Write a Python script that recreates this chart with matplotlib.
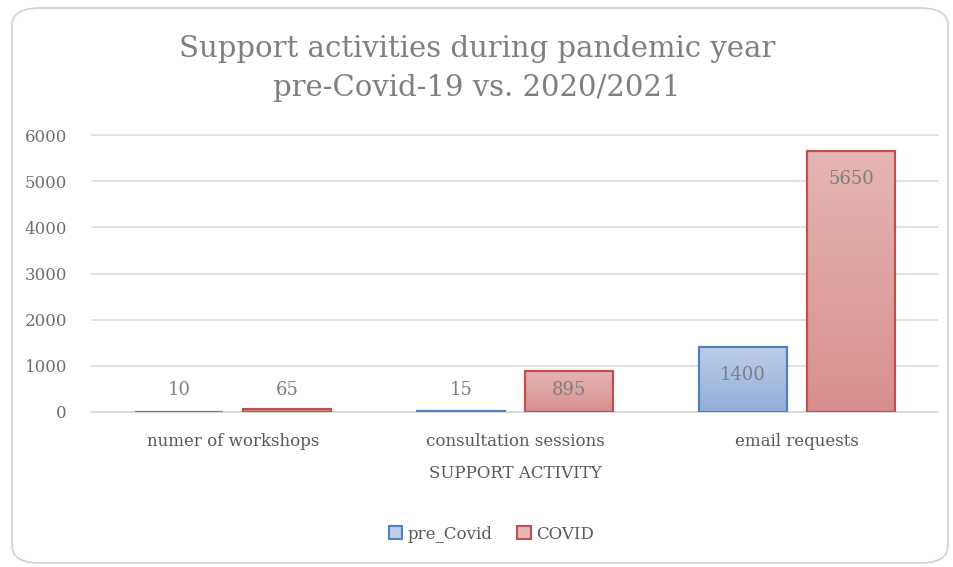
import numpy as np
import matplotlib
matplotlib.use('Agg')
import matplotlib.pyplot as plt
from matplotlib.colors import LinearSegmentedColormap
from matplotlib.patches import FancyBboxPatch, Patch

categories = ['numer of workshops', 'consultation sessions', 'email requests']
series_names = ['pre_Covid', 'COVID']
pre_covid = [10, 15, 1400]
covid = [65, 895, 5650]
yticks = [0, 1000, 2000, 3000, 4000, 5000, 6000]

title = 'Support activities during pandemic year\npre-Covid-19 vs. 2020/2021'
xlabel = 'SUPPORT ACTIVITY'

plt.rcParams['font.family'] = ['DejaVu Serif']

fill_colors = [('#bccde9', '#92aedb'), ('#e6b5b5', '#d78f8e')]
edge_colors = ['#4f81bd', '#c0504d']
text_gray = '#7f7f7f'
tick_gray = '#595959'

fig = plt.figure(figsize=(9.54, 5.67), dpi=100)

# rounded frame around whole chart
frame = FancyBboxPatch((12 / 954, 4 / 567), 936 / 954, 555 / 567,
                       boxstyle='round,pad=0,rounding_size=0.03',
                       transform=fig.transFigure, facecolor='none',
                       edgecolor='#d0d0d0', linewidth=1.2, zorder=-1)
fig.patches.append(frame)

ax = fig.add_axes([92 / 954, 155 / 567, 846 / 954, 277 / 567])
ax.set_facecolor('none')

x = np.arange(len(categories))
width = 0.312
offset = 0.192

for k, vals in enumerate([pre_covid, covid]):
    cmap = LinearSegmentedColormap.from_list('g%d' % k, [fill_colors[k][1], fill_colors[k][0]])
    bars = ax.bar(x + (2 * k - 1) * offset, vals, width, facecolor='none',
                  edgecolor=edge_colors[k], linewidth=1.6, label=series_names[k], zorder=3)
    for b, v in zip(bars, vals):
        x0, x1 = b.get_x(), b.get_x() + b.get_width()
        grad = np.linspace(0, 1, 256).reshape(-1, 1)
        im = ax.imshow(grad, cmap=cmap, origin='lower', aspect='auto',
                       extent=[x0, x1, 0, v], zorder=2)
        im.set_clip_path(b)
        # label inside top end, or just above for short bars
        ax.text(b.get_x() + b.get_width() / 2, max(v - 600, 475), str(v),
                ha='center', va='center', fontsize=13, color=text_gray, zorder=4)

ax.set_xlim(-0.5, 2.5)
ax.set_ylim(0, 6000)
ax.set_yticks(yticks)
ax.set_xticks(x)
ax.set_xticklabels(categories)
ax.tick_params(axis='both', length=0, labelsize=12, labelcolor=tick_gray)
ax.tick_params(axis='y', labelcolor='#6f6f6f')
ax.tick_params(axis='x', pad=15)
ax.tick_params(axis='y', pad=18)
ax.grid(axis='y', color='#d9d9d9', linewidth=1.1, zorder=0)
for gl in ax.get_ygridlines():
    gl.set_clip_on(False)
ax.set_axisbelow(True)
for s in ['top', 'right', 'left']:
    ax.spines[s].set_visible(False)
ax.spines['bottom'].set_color('#d9d9d9')
ax.spines['bottom'].set_linewidth(1.1)

ax.set_xlabel(xlabel, fontsize=12, color=tick_gray, labelpad=11)

fig.text(0.5, 0.88, title, ha='center', va='center', fontsize=21,
         color=text_gray, linespacing=1.5)

handles = [Patch(facecolor=fill_colors[k][0], edgecolor=edge_colors[k], linewidth=1.5)
           for k in range(2)]
fig.legend(handles, series_names, loc='center', bbox_to_anchor=(0.515, 0.058),
           ncol=2, frameon=False, fontsize=12, labelcolor=tick_gray,
           handlelength=0.8, handleheight=0.8, handletextpad=0.3, columnspacing=1.5)

fig.savefig('out.png', dpi=100)
